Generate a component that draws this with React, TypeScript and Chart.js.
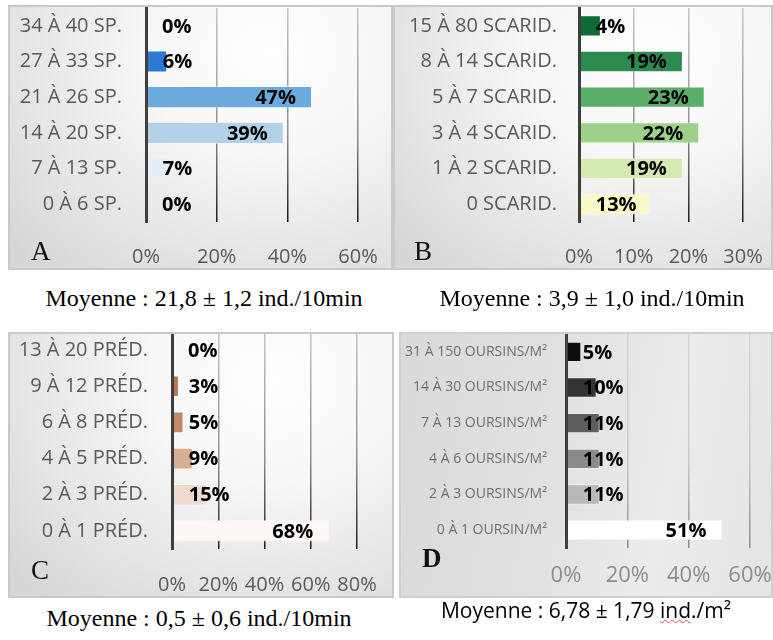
import React, { useEffect, useRef } from "react";
import { Chart, registerables } from "chart.js";

Chart.register(...registerables);

// ---------- DATA ----------
const catsA = ["34 À 40 SP.", "27 À 33 SP.", "21 À 26 SP.", "14 À 20 SP.", "7 À 13 SP.", "0 À 6 SP."];
const valsA = [0, 6, 47, 39, 7, 0];
const colsA = ["#2a7ad6", "#2a7ad6", "#6aaadd", "#b3d1e7", "#e6eef7", "#e6eef7"];
const maxA = 60;
const stepA = 20;

const catsB = ["15 À 80 SCARID.", "8 À 14 SCARID.", "5 À 7 SCARID.", "3 À 4 SCARID.", "1 À 2 SCARID.", "0 SCARID."];
const valsB = [4, 19, 23, 22, 19, 13];
const colsB = ["#0e6b35", "#2e8b4f", "#5aae68", "#9dd18a", "#d5eab0", "#fbf8c8"];
const maxB = 30;
const stepB = 10;

const catsC = ["13 À 20 PRÉD.", "9 À 12 PRÉD.", "6 À 8 PRÉD.", "4 À 5 PRÉD.", "2 À 3 PRÉD.", "0 À 1 PRÉD."];
const valsC = [0, 3, 5, 9, 15, 68];
const colsC = ["#a8673c", "#b8784c", "#c28a63", "#d6ae92", "#efdccf", "#fdf8f5"];
const maxC = 80;
const stepC = 20;

const catsD = ["31 À 150 OURSINS/M²", "14 À 30 OURSINS/M²", "7 À 13 OURSINS/M²", "4 À 6 OURSINS/M²", "2 À 3 OURSINS/M²", "0 À 1 OURSIN/M²"];
const valsD = [5, 10, 11, 11, 11, 51];
const colsD = ["#0d0d0d", "#333333", "#5e5e5e", "#8a8a8a", "#b9b9b9", "#ffffff"];
const maxD = 60;
const stepD = 20;

const captionA = "Moyenne : 21,8 ± 1,2 ind./10min";
const captionB = "Moyenne : 3,9 ± 1,0 ind./10min";
const captionC = "Moyenne : 0,5 ± 0,6 ind./10min";

// ---------- PLUGIN: value labels ----------
const labelPlugin = {
  id: "barLabels",
  afterDatasetsDraw(chart: any, _args: any, opts: any) {
    const { ctx } = chart;
    const meta = chart.getDatasetMeta(0);
    const data = chart.data.datasets[0].data;
    ctx.save();
    ctx.font = opts.font;
    ctx.fillStyle = opts.color;
    ctx.textAlign = "left";
    ctx.textBaseline = "middle";
    meta.data.forEach((el: any, i: number) => {
      const text = data[i] + "%";
      const w = ctx.measureText(text).width;
      const p = el.getProps(["x", "y", "base"], true);
      let left = p.x - opts.inset - w;
      const minLeft = p.base + opts.minOffset;
      if (left < minLeft) left = minLeft;
      ctx.fillText(text, left, p.y + opts.dy);
    });
    ctx.restore();
  },
};

type PanelProps = {
  box: { x: number; y: number; w: number; h: number };
  area: { l: number; r: number; t: number; b: number };
  cats: string[];
  vals: number[];
  cols: string[];
  max: number;
  step: number;
  catFont: number;
  catColor: string;
  catPad: number;
  tickFont: number;
  tickColor: string;
  tickPad: number;
  valFont: number;
  barPct: number;
  gridStops: string[];
  bg: string;
  border: string;
};

function BarPanel(p: PanelProps) {
  const ref = useRef<HTMLCanvasElement | null>(null);
  useEffect(() => {
    const canvas = ref.current;
    if (!canvas) return;
    const chart = new Chart(canvas, {
      type: "bar",
      data: {
        labels: p.cats,
        datasets: [
          {
            data: p.vals,
            backgroundColor: p.cols,
            borderColor: "rgba(255,255,255,0.45)",
            borderWidth: 1,
            borderSkipped: "start",
            barPercentage: p.barPct,
            categoryPercentage: 1,
          },
        ],
      },
      options: {
        indexAxis: "y",
        responsive: false,
        maintainAspectRatio: false,
        animation: false,
        events: [],
        layout: { padding: { left: 0, top: p.area.t, right: p.box.w - p.area.r, bottom: 0 } },
        plugins: {
          legend: { display: false },
          tooltip: { enabled: false },
          barLabels: {
            font: `bold ${p.valFont}px "Open Sans"`,
            color: "#000",
            inset: 16,
            minOffset: 16,
            dy: 1,
          },
        } as any,
        scales: {
          x: {
            min: 0,
            max: p.max,
            ticks: {
              stepSize: p.step,
              callback: (v: any) => v + "%",
              font: { family: "Open Sans", size: p.tickFont },
              color: p.tickColor,
              padding: p.tickPad,
              maxRotation: 0,
              autoSkip: false,
            },
            grid: {
              drawTicks: false,
              lineWidth: 1.5,
              color: (c: any) => {
                if (c.tick && c.tick.value === 0) return "rgba(0,0,0,0)";
                const a = c.chart.chartArea;
                if (!a) return p.gridStops[1];
                const g = c.chart.ctx.createLinearGradient(0, a.top, 0, a.bottom);
                g.addColorStop(0, p.gridStops[0]);
                g.addColorStop(0.6, p.gridStops[1]);
                g.addColorStop(1, p.gridStops[2]);
                return g;
              },
            },
            border: { display: false },
            afterFit: (s: any) => {
              s.height = p.box.h - p.area.b;
              s.paddingLeft = 0;
              s.paddingRight = 0;
              s.paddingTop = 0;
              s.paddingBottom = 0;
            },
          },
          y: {
            ticks: {
              font: { family: "Open Sans", size: p.catFont },
              color: p.catColor,
              padding: p.catPad,
              autoSkip: false,
            },
            grid: { display: false, drawTicks: false },
            border: { display: true, color: "#3f3f3f", width: 3, z: 1 } as any,
            afterFit: (s: any) => {
              s.width = p.area.l;
              s.paddingLeft = 0;
              s.paddingRight = 0;
              s.paddingTop = 0;
              s.paddingBottom = 0;
            },
          },
        },
      },
      plugins: [labelPlugin],
    } as any);
    return () => chart.destroy();
  }, []);
  return (
    <div
      style={{
        position: "absolute",
        left: p.box.x,
        top: p.box.y,
        width: p.box.w,
        height: p.box.h,
        background: p.bg,
      }}
    >
      <canvas
        ref={ref}
        width={p.box.w}
        height={p.box.h}
        style={{ position: "absolute", left: 0, top: 0, width: p.box.w, height: p.box.h }}
      />
      <div
        style={{
          position: "absolute",
          left: 0,
          top: 0,
          width: p.box.w,
          height: p.box.h,
          boxSizing: "border-box",
          border: p.border,
          pointerEvents: "none",
        }}
      />
    </div>
  );
}

const serif = '"Liberation Serif", "Times New Roman", serif';
const lightBg = "radial-gradient(ellipse 90% 110% at 68% 18%, #ffffff 0%, #f7f7f7 35%, #e6e6e6 70%, #d6d6d6 100%)";
const darkBg = "linear-gradient(100deg, #d9d9d9 0%, #e2e2e2 45%, #ececec 70%, #e4e4e4 100%)";

function Letter({ x, y, text, bold }: { x: number; y: number; text: string; bold?: boolean }) {
  return (
    <div
      style={{
        position: "absolute",
        left: x,
        top: y,
        fontFamily: serif,
        fontSize: 27,
        lineHeight: "27px",
        fontWeight: bold ? "bold" : "normal",
        color: "#111",
      }}
    >
      {text}
    </div>
  );
}

function Caption({ cx, y, children, font, size }: any) {
  return (
    <div
      style={{
        position: "absolute",
        left: cx - 200,
        width: 400,
        top: y,
        textAlign: "center",
        fontFamily: font,
        fontSize: size,
        lineHeight: `${size}px`,
        color: "#000",
        whiteSpace: "nowrap",
      }}
    >
      {children}
    </div>
  );
}

export default function App() {
  const common = {
    catFont: 20,
    catColor: "#595959",
    tickFont: 20,
    tickColor: "#595959",
    valFont: 20,
    bg: lightBg,
    border: "2px solid #c9c9c9",
  };
  return (
    <div style={{ position: "absolute", left: 0, top: 0, width: 773, height: 640, background: "#fff", overflow: "hidden" }}>
      <BarPanel
        {...common}
        box={{ x: 8, y: 5, w: 385, h: 265 }}
        area={{ l: 138, r: 350, t: 3, b: 217 }}
        cats={catsA}
        vals={valsA}
        cols={colsA}
        max={maxA}
        step={stepA}
        catPad={24}
        tickPad={23}
        barPct={0.62}
        gridStops={["#c4c4c4", "#8c8c8c", "#1a1a1a"]}
      />
      <BarPanel
        {...common}
        box={{ x: 393, y: 5, w: 380, h: 265 }}
        area={{ l: 186, r: 350, t: 3, b: 217 }}
        cats={catsB}
        vals={valsB}
        cols={colsB}
        max={maxB}
        step={stepB}
        catPad={22}
        tickPad={23}
        barPct={0.6}
        gridStops={["#c4c4c4", "#8c8c8c", "#1a1a1a"]}
      />
      <BarPanel
        {...common}
        box={{ x: 8, y: 332, w: 386, h: 266 }}
        area={{ l: 164, r: 349, t: 0, b: 217 }}
        cats={catsC}
        vals={valsC}
        cols={colsC}
        max={maxC}
        step={stepC}
        catPad={24}
        tickPad={24}
        barPct={0.6}
        gridStops={["#c4c4c4", "#8c8c8c", "#1a1a1a"]}
      />
      <BarPanel
        {...common}
        box={{ x: 399, y: 332, w: 374, h: 266 }}
        area={{ l: 167, r: 351, t: 2, b: 216 }}
        cats={catsD}
        vals={valsD}
        cols={colsD}
        max={maxD}
        step={stepD}
        catFont={14}
        catColor="#6e6e6e"
        tickFont={22}
        tickColor="#8c8c8c"
        catPad={19}
        tickPad={15}
        barPct={0.57}
        bg={darkBg}
        border="2px solid #cfcfcf"
        gridStops={["#d6d6d6", "#c8c8c8", "#8a8a8a"]}
      />

      <Letter x={31} y={238} text="A" />
      <Letter x={414} y={238} text="B" />
      <Letter x={31} y={557} text="C" />
      <Letter x={422} y={545} text="D" bold />

      <Caption cx={204} y={286} font={serif} size={24}>{captionA}</Caption>
      <Caption cx={592} y={286} font={serif} size={24}>{captionB}</Caption>
      <Caption cx={199} y={606} font={serif} size={24}>{captionC}</Caption>
      <Caption cx={586} y={600} font='"Open Sans", sans-serif' size={21}>
        Moyenne : 6,78 ± 1,79{" "}
        <span style={{ textDecoration: "underline wavy #e05050", textDecorationThickness: 1 }}>ind</span>./m²
      </Caption>
    </div>
  );
}
